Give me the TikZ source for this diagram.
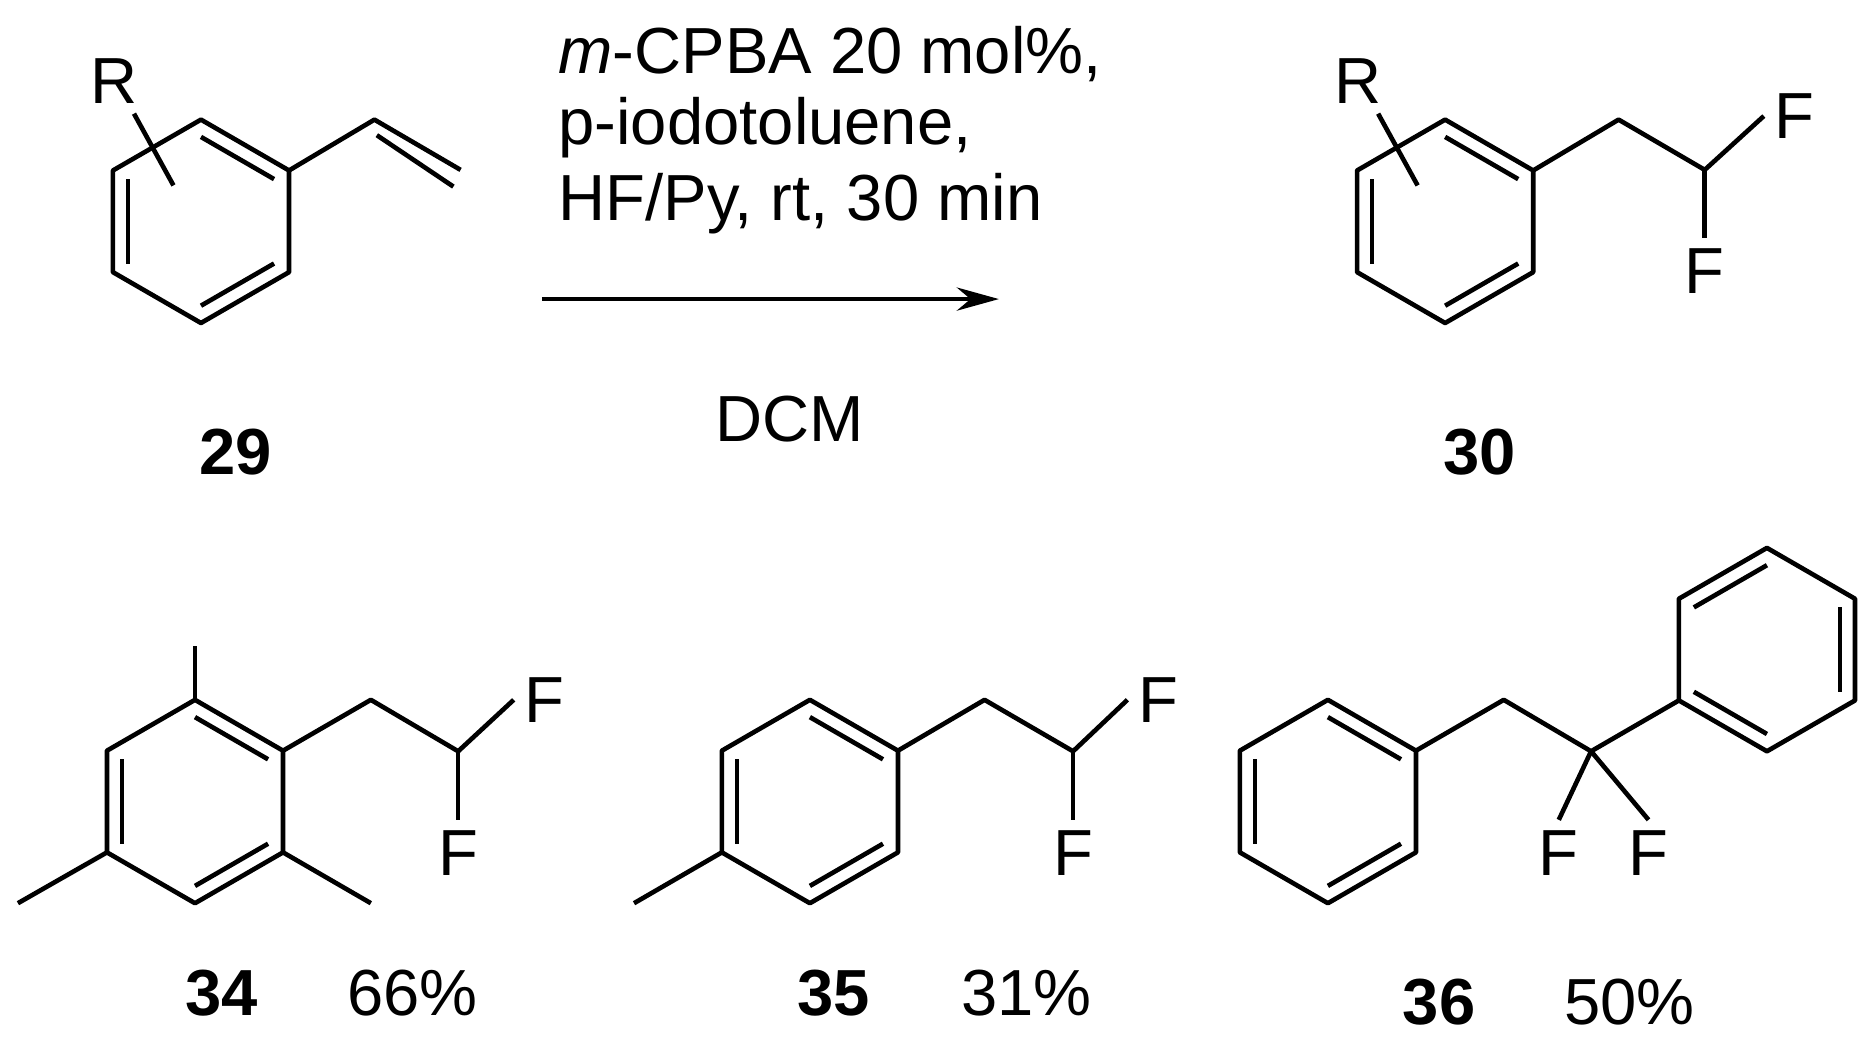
\documentclass[tikz,border=0pt]{standalone}
\usepackage{fontspec}
\setmainfont{Liberation Sans}
\usetikzlibrary{calc,arrows.meta}
\newcommand\dbin[3]{\draw ($(#1)!0.17!(#3)$)--($(#2)!0.17!(#3)$);}
\newcommand\hexa[3]{%
 \coordinate (#1c) at (#2,-#3);
 \coordinate (#11) at (#2,-#3+85);
 \coordinate (#12) at (#2+73.6,-#3+42.5);
 \coordinate (#13) at (#2+73.6,-#3-42.5);
 \coordinate (#14) at (#2,-#3-85);
 \coordinate (#15) at (#2-73.6,-#3-42.5);
 \coordinate (#16) at (#2-73.6,-#3+42.5);
 \draw (#11)--(#12)--(#13)--(#14)--(#15)--(#16)--cycle;}
\begin{document}
\begin{tikzpicture}[x=0.02cm,y=0.02cm,line width=2.2pt,line join=round,
  lab/.style={font=\fontsize{31}{36}\selectfont,inner sep=0pt},
  num/.style={lab,font=\fontsize{31}{36}\selectfont\bfseries}]
\useasboundingbox (0,0) rectangle (1564,-886);
% 29
\hexa{a}{168}{185}
\dbin{a1}{a2}{ac}\dbin{a3}{a4}{ac}\dbin{a5}{a6}{ac}
\coordinate (av1) at (313,-100); \coordinate (av2) at (385,-142);
\draw (a2)--(av1)--(av2);
\draw ($(av1)+(2,-13)$)--($(av2)+(-6,-14)$);
\node[lab] (R1) at (95,-68) {R};
\draw (112,-95)--(145,-155);
\node[num] (n29) at (197,-378) {29};
% arrow
\node[lab,anchor=west] (t1) at (465,-45) {\textit{m}-CPBA 20 mol\%,};
\node[lab,anchor=west] (t2) at (465,-107) {p-iodotoluene,};
\node[lab,anchor=west] (t3) at (465,-170) {HF/Py, rt, 30 min};
\coordinate (arS) at (453,-250); \coordinate (arE) at (835,-250);
\draw[-{Stealth[length=20pt,width=11pt]}] (arS)--(arE);
\node[lab] (dcm) at (660,-350) {DCM};
% 30
\hexa{b}{1208}{185}
\dbin{b1}{b2}{bc}\dbin{b3}{b4}{bc}\dbin{b5}{b6}{bc}
\coordinate (b7) at (1353,-100); \coordinate (b8) at (1425,-142);
\node[lab] (bF1) at (1500,-97) {F};
\node[lab] (bF2) at (1425,-227) {F};
\draw (b2)--(b7)--(b8)--([xshift=-4pt]bF1.west);
\draw (b8)--([yshift=4pt]bF2.north);
\node[lab] (R2) at (1135,-68) {R};
\draw (1152,-95)--(1185,-155);
\node[num] (n30) at (1237,-378) {30};
% 34
\hexa{c}{163}{670}
\dbin{c1}{c2}{cc}\dbin{c3}{c4}{cc}\dbin{c5}{c6}{cc}
\draw (c1)--(163,-540);
\draw (c5)--(15,-755);
\draw (c3)--(310,-755);
\coordinate (c7) at (310,-585); \coordinate (c8) at (383,-628);
\node[lab] (cF1) at (455,-585) {F};
\node[lab] (cF2) at (383,-713) {F};
\draw (c2)--(c7)--(c8)--([xshift=-4pt]cF1.west);
\draw (c8)--([yshift=4pt]cF2.north);
\node[num] (n34) at (185,-830) {34};
\node[lab] (y34) at (345,-830) {66\%};
% 35
\hexa{d}{677}{670}
\dbin{d1}{d2}{dc}\dbin{d3}{d4}{dc}\dbin{d5}{d6}{dc}
\draw (d5)--(530,-755);
\coordinate (d7) at (823,-585); \coordinate (d8) at (897,-628);
\node[lab] (dF1) at (968,-585) {F};
\node[lab] (dF2) at (897,-713) {F};
\draw (d2)--(d7)--(d8)--([xshift=-4pt]dF1.west);
\draw (d8)--([yshift=4pt]dF2.north);
\node[num] (n35) at (697,-830) {35};
\node[lab] (y35) at (858,-830) {31\%};
% 36
\hexa{e}{1110}{670}
\dbin{e1}{e2}{ec}\dbin{e3}{e4}{ec}\dbin{e5}{e6}{ec}
\hexa{f}{1477}{543}
\dbin{f6}{f1}{fc}\dbin{f2}{f3}{fc}\dbin{f4}{f5}{fc}
\coordinate (e7) at (1257,-585); \coordinate (e8) at (1330,-628);
\node[lab] (eF1) at (1303,-713) {F};
\node[lab] (eF2) at (1378,-713) {F};
\draw (e2)--(e7)--(e8)--(f5);
\draw (e8)--([yshift=4pt]eF1.north); \draw (e8)--([yshift=4pt]eF2.north);
\node[num] (n36) at (1203,-838) {36};
\node[lab] (y36) at (1362,-838) {50\%};
\end{tikzpicture}
\end{document}
